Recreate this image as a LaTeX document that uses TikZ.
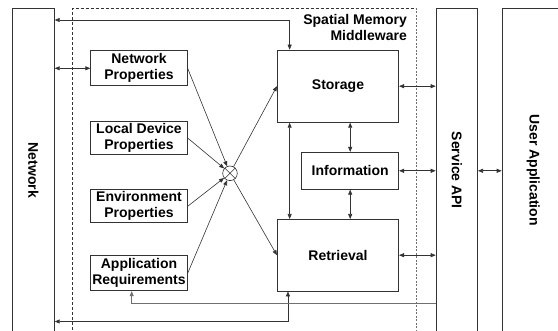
\documentclass[tikz,border=0pt]{standalone}
\usepackage{fontspec}
\setmainfont{Liberation Sans}
\usetikzlibrary{arrows.meta}
\definecolor{linec}{HTML}{333333}
\definecolor{lightc}{HTML}{707070}
\begin{document}
\begin{tikzpicture}[x=1pt,y=-1pt,
  lbl/.style={font=\bfseries\fontsize{14}{16}\selectfont, text=black},
  box/.style={draw=linec, line width=0.7pt, rectangle, inner sep=0pt,
    align=center, lbl},
  conn/.style={draw=linec, line width=0.6pt},
  sa/.style={conn, -{Triangle[length=5pt,width=4pt]}},
  da/.style={conn, {Triangle[length=5pt,width=4pt]}-{Triangle[length=5pt,width=4pt]}},
]
\useasboundingbox (0,0) rectangle (558,331);
\clip (0,0) rectangle (558,331);

% outer columns
\node[box, minimum width=42pt, minimum height=324pt, anchor=north west] (net) at (12,8) {};
\node[box, minimum width=41.6pt, minimum height=324pt, anchor=north west] (svc) at (435.7,8) {};
\node[box, minimum width=62.6pt, minimum height=324pt, anchor=north west] (usr) at (501.7,8) {};
\node[lbl, rotate=-90] (netlbl) at (net.center) {Network};
\node[lbl, rotate=-90] (svclbl) at (svc.center) {Service API};
\node[lbl, rotate=-90] (usrlbl) at (usr.center) {User Application};

% middleware boundary
\draw[linec, line width=0.6pt, dash pattern=on 3pt off 2pt] (72.7,340) -- (72.7,8) -- (416.7,8);
\draw[lightc, line width=0.6pt, dash pattern=on 2pt off 1.5pt] (416.7,8) -- (416.7,340);
\node[lbl, align=right, anchor=north east, inner sep=0pt] (title) at (407,14) {Spatial Memory\\Middleware};

% property boxes
\node[box, minimum width=96.6pt, minimum height=35pt] (np)  at (139,68.3)  {Network\\Properties};
\node[box, minimum width=96.6pt, minimum height=33pt] (ldp) at (139,138)   {Local Device\\Properties};
\node[box, minimum width=96.6pt, minimum height=33pt] (ep)  at (139,206.3) {Environment\\Properties};
\node[box, minimum width=96.6pt, minimum height=35pt] (ar)  at (139,273.3) {Application\\Requirements};

% combiner
\node[draw=linec, line width=0.6pt, circle, minimum size=14.6pt, inner sep=0pt] (mix) at (230,173.3) {};
\draw[conn] (mix.north west) -- (mix.south east) (mix.north east) -- (mix.south west);

% core blocks
\node[box, minimum width=121.4pt, minimum height=72.3pt] (sto)  at (338,86.2)  {Storage};
\node[box, minimum width=97pt,    minimum height=37pt]   (info) at (350.2,170.8) {Information};
\node[box, minimum width=121.4pt, minimum height=71.7pt] (retr) at (338,255.2) {Retrieval};

% helper points
\coordinate (topy) at (0,20);
\coordinate (boty) at (0,321.5);
\coordinate (feedy) at (0,303.3);
\coordinate (sT) at ([xshift=12.7pt]sto.north west);
\coordinate (sB) at ([xshift=12.7pt]sto.south west);
\coordinate (rB) at ([xshift=11pt]retr.south west);
\coordinate (arB) at ([xshift=-7.3pt]ar.south);

% network links
\draw[da] (net.east |- topy) -| (sT);
\draw[da] (net.east |- np.west) -- (np.west);
\draw[da] (net.east |- boty) -| (rB);
\draw[sa, draw=lightc] (svc.west |- feedy) -| (arB);

% inputs into the combiner
\draw[sa] (np.east) -- (mix);
\draw[sa] (ldp.east) -- (mix);
\draw[sa] (ep.east) -- (mix);
\draw[sa] (ar.east) -- (mix);
\draw[sa] (mix) -- (sto.west);
\draw[sa] (mix) -- (retr.west);

% internal links
\draw[da] (sB) -- (sB |- retr.north);
\draw[da] (info.north) -- (info.north |- sto.south);
\draw[da] (info.south) -- (info.south |- retr.north);

% service interface
\draw[da] (sto.east) -- (sto.east -| svc.west);
\draw[da] (info.east) -- (info.east -| svc.west);
\draw[da] (retr.east) -- (retr.east -| svc.west);
\draw[da] (svc.east |- info.east) -- (usr.west |- info.east);
\end{tikzpicture}
\end{document}
